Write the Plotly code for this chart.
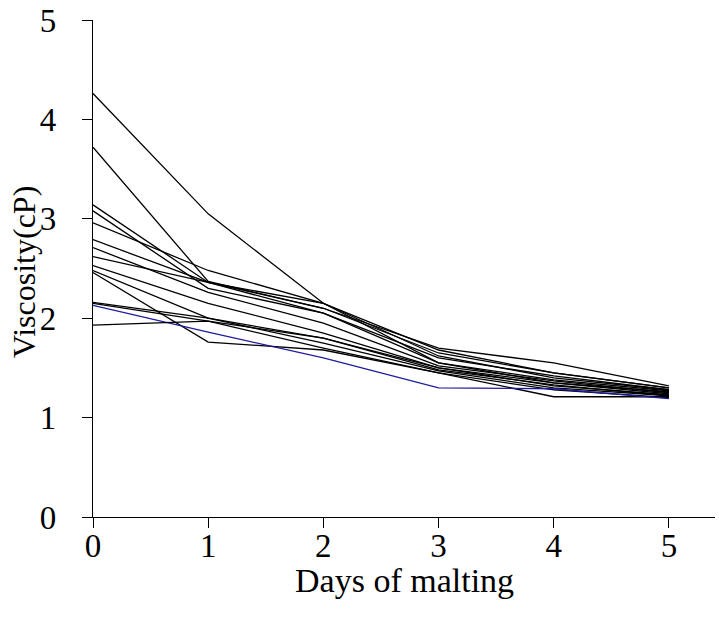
import plotly.graph_objects as go

days = [0, 1, 2, 3, 4, 5]
series = [
    [4.26, 3.05, 2.15, 1.62, 1.40, 1.28],
    [3.72, 2.37, 2.10, 1.70, 1.55, 1.32],
    [3.14, 2.36, 2.15, 1.68, 1.45, 1.30],
    [3.08, 2.30, 2.05, 1.60, 1.42, 1.28],
    [2.96, 2.48, 2.15, 1.55, 1.38, 1.27],
    [2.79, 2.36, 2.05, 1.55, 1.35, 1.26],
    [2.71, 2.26, 1.95, 1.52, 1.37, 1.25],
    [2.62, 2.36, 2.10, 1.65, 1.45, 1.30],
    [2.53, 2.15, 1.85, 1.50, 1.35, 1.24],
    [2.48, 2.00, 1.80, 1.48, 1.33, 1.22],
    [2.46, 1.76, 1.68, 1.45, 1.21, 1.21],
    [2.16, 2.00, 1.75, 1.47, 1.30, 1.22],
    [2.15, 1.97, 1.70, 1.45, 1.28, 1.20],
    [2.13, 1.86, 1.60, 1.30, 1.29, 1.19],
    [1.93, 1.97, 1.80, 1.50, 1.32, 1.23],
]
colors = ["black"] * 13 + ["#1c1c9c", "black"]
x_title = "Days of malting"
y_title = "Viscosity(cP)"

fig = go.Figure()
for vals, c in zip(series, colors):
    fig.add_trace(go.Scatter(x=days, y=vals, mode="lines",
                             line=dict(color=c, width=1.3), showlegend=False))

font = "Liberation Serif, Times New Roman, serif"
fig.update_layout(
    width=719, height=621,
    margin=dict(l=93, r=4, t=20, b=104, autoexpand=False),
    plot_bgcolor="white", paper_bgcolor="white",
    font=dict(family=font, color="black"),
)
fig.update_xaxes(
    range=[0, 5.4], tickvals=days, ticktext=[str(d) for d in days],
    showline=True, linecolor="black", linewidth=1.3,
    ticks="outside", ticklen=10, tickcolor="black", tickwidth=1.3,
    showgrid=False, zeroline=False, automargin=False, ticklabelstandoff=-11,
    ticklabeloverflow="allow",
    tickfont=dict(size=33, family=font),
)
fig.update_yaxes(
    range=[0, 5], tickvals=[0, 1, 2, 3, 4, 5],
    showline=True, linecolor="black", linewidth=1.3,
    ticks="outside", ticklen=10, tickcolor="black", tickwidth=1.3,
    showgrid=False, zeroline=False, ticklabelstandoff=19, automargin=False,
    ticklabeloverflow="allow",
    tickfont=dict(size=33, family=font),
)
fig.add_annotation(text=x_title, xref="x", yref="paper", x=2.7, y=0,
                   yanchor="middle", xanchor="center", yshift=-63, showarrow=False,
                   borderpad=0, font=dict(size=34, family=font, color="black"))
fig.add_annotation(text=y_title, xref="paper", yref="paper", x=0, y=0.493,
                   xanchor="center", yanchor="middle", xshift=-69, textangle=-90,
                   showarrow=False, borderpad=0,
                   font=dict(size=32, family=font, color="black"))
fig.write_html("out.html", config={"displayModeBar": False},
               post_script="document.body.style.margin='0';document.body.style.padding='0';")
